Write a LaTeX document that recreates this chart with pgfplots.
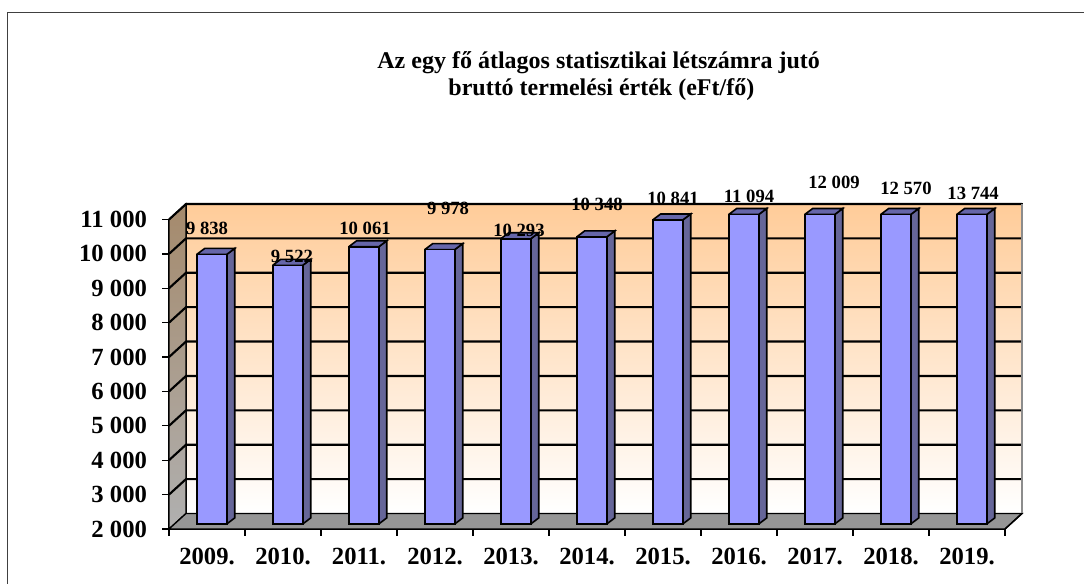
\documentclass[border=0pt]{standalone}
\usepackage{fontspec}
\setmainfont{Liberation Serif}
\usepackage{pgfplots}
\pgfplotsset{compat=1.18}

\definecolor{wallorange}{HTML}{FFCC99}
\definecolor{sidetop}{HTML}{A58A6C}
\definecolor{sidebot}{HTML}{B0B0B0}
\definecolor{floorgray}{HTML}{969696}
\definecolor{barfront}{HTML}{9999FF}
\definecolor{barside}{HTML}{666699}
\definecolor{bartop}{HTML}{6666AA}

% side and top face of one column: left edge of front face, drawn height
\newcommand{\bardepth}[2]{%
  \addplot[fill=barside,draw=black,line width=1.2pt] coordinates {
    (#1+0.395,2146) (#1+0.5,2321) (#1+0.5,#2+321) (#1+0.395,#2+146) (#1+0.395,2146)};
  \addplot[fill=bartop,draw=black,line width=1.2pt] coordinates {
    (#1,#2+146) (#1+0.105,#2+321) (#1+0.5,#2+321) (#1+0.395,#2+146) (#1,#2+146)};
}

\begin{document}
\begin{tikzpicture}
\useasboundingbox (0,0) rectangle (813pt,438pt);
\draw[line width=1pt,black!75] (5.6pt,0) -- (5.6pt,428.6pt) -- (813pt,428.6pt);
\node[font=\bfseries\fontsize{18}{20.25}\selectfont,align=center] at (449pt,381pt)
  {Az egy fő átlagos statisztikai létszámra jutó\\\hspace*{4pt}bruttó termelési érték (eFt/fő)};

\begin{axis}[
  at={(126.75pt,41.25pt)}, anchor=south west,
  scale only axis, width=627pt, height=232.1pt,
  xmin=0, xmax=11, ymin=2000, ymax=11000,
  clip=false,
  axis x line=bottom, axis y line=left,
  axis line style={-,line width=1.2pt,black},
  tick style={black,line width=0.9pt},
  tick align=outside, major tick length=5pt,
  xtick={0,...,11},
  x tick label as interval,
  xticklabels={2009.,2010.,2011.,2012.,2013.,2014.,2015.,2016.,2017.,2018.,2019.},
  xticklabel style={font=\bfseries\fontsize{18.5}{20}\selectfont,yshift=-6pt},
  ytick={2000,3000,...,11000},
  yticklabel style={font=\bfseries\fontsize{18.5}{20}\selectfont,xshift=-8pt,
    /pgf/number format/1000 sep={\ },/pgf/number format/assume math mode=true},
  scaled y ticks=false,
]
% walls and floor
\addplot[draw=black,line width=1pt,top color=wallorange,middle color=wallorange!42,bottom color=white] coordinates {
  (0.2237,2451) (11.2237,2451) (11.2237,11451) (0.2237,11451) (0.2237,2451)};
\addplot[draw=black,line width=1pt,top color=sidetop,bottom color=sidebot] coordinates {
  (0,2000) (0.2237,2451) (0.2237,11451) (0,11000) (0,2000)};
\addplot[draw=black,line width=1pt,fill=floorgray] coordinates {
  (0,2000) (11,2000) (11.2237,2451) (0.2237,2451) (0,2000)};
% grid lines
\addplot[draw=black,line width=1.6pt,unbounded coords=jump] coordinates {
  (0,3000) (0.2237,3451) (11.2237,3451) (11.2237,nan)
  (0,4000) (0.2237,4451) (11.2237,4451) (11.2237,nan)
  (0,5000) (0.2237,5451) (11.2237,5451) (11.2237,nan)
  (0,6000) (0.2237,6451) (11.2237,6451) (11.2237,nan)
  (0,7000) (0.2237,7451) (11.2237,7451) (11.2237,nan)
  (0,8000) (0.2237,8451) (11.2237,8451) (11.2237,nan)
  (0,9000) (0.2237,9451) (11.2237,9451) (11.2237,nan)
  (0,10000) (0.2237,10451) (11.2237,10451) (11.2237,nan)
  (0,11000) (0.2237,11451) (11.2237,11451)};
\addplot[draw=black!45,line width=1.3pt] coordinates {(11.2237,2451) (11.2237,11451)};
\addplot[draw=black,line width=1.1pt] coordinates {(11,2000) (11.2237,2451)};
% columns (heights cut off at the axis maximum as in the original)
\bardepth{0.3645}{9838}
\bardepth{1.3645}{9522}
\bardepth{2.3645}{10061}
\bardepth{3.3645}{9978}
\bardepth{4.3645}{10293}
\bardepth{5.3645}{10348}
\bardepth{6.3645}{10841}
\bardepth{7.3645}{11000}
\bardepth{8.3645}{11000}
\bardepth{9.3645}{11000}
\bardepth{10.3645}{11000}
\addplot[ybar,bar width=22.5pt,yshift=3.75pt,fill=barfront,draw=black,line width=1.2pt] coordinates {
  (0.562,9838) (1.562,9522) (2.562,10061) (3.562,9978) (4.562,10293) (5.562,10348)
  (6.562,10841) (7.562,11000) (8.562,11000) (9.562,11000) (10.562,11000)};
% data labels
\addplot[draw=none,nodes near coords,point meta=explicit symbolic,
  every node near coord/.append style={anchor=center,inner sep=0pt,
    font=\bfseries\fontsize{14}{15}\selectfont}]
  table[x=x,y=y,meta=label] {
x y label
0.500 10739 {9 838}
1.618 9923 {9 522}
2.579 10739 {10 061}
3.671 11321 {9 978}
4.605 10680 {10 293}
5.632 11438 {10 348}
6.632 11612 {10 841}
7.632 11671 {11 094}
8.750 12079 {12 009}
9.697 11904 {12 570}
10.580 11758 {13 744}
};
\end{axis}
\end{tikzpicture}
\end{document}
